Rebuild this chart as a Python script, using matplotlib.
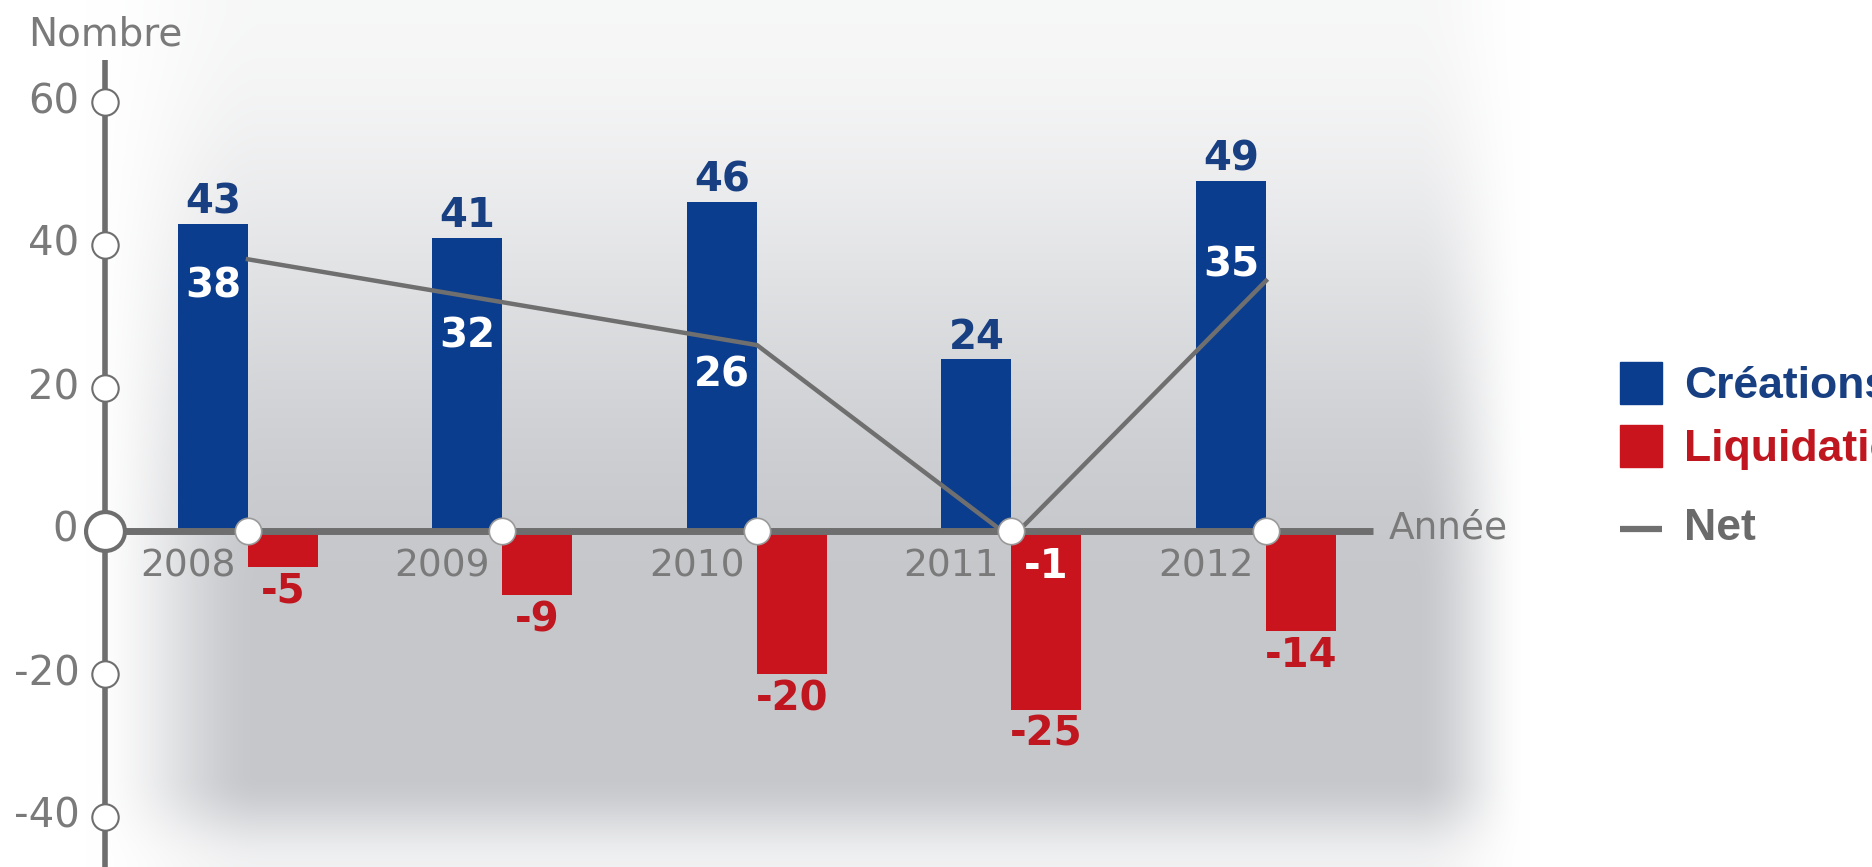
"""
creations / liquidations d'entreprises, 2008-2012
bar chart with net line, grey vignette background
"""
import numpy as np
import matplotlib as mpl
mpl.use('Agg')
import matplotlib.pyplot as plt
from matplotlib.patches import Rectangle

# data
years = ['2008', '2009', '2010', '2011', '2012']
creations = [43, 41, 46, 24, 49]
liquidations = [-5, -9, -20, -25, -14]
net = [38, 32, 26, -1, 35]
y_ticks = [60, 40, 20, 0, -20, -40]

# colours
BLUE = '#0b3d8e'
RED = '#c9141d'
BLUE_TXT = '#173f82'
RED_TXT = '#c0161f'
AXIS = '#6e6e6e'
TXT_GRAY = '#7a7a7a'

plt.rcParams['font.family'] = ['DejaVu Sans']
LEG_FONT = ['Liberation Sans', 'DejaVu Sans']

W, H = 1872, 867
DPI = 100


def smooth(t):
    t = np.clip(t, 0, 1)
    return t * t * (3 - 2 * t)


def background():
    yy, xx = np.mgrid[0:H, 0:W].astype(float)
    fx = smooth((xx - 85) / 175) * (1 - smooth((xx - 1415) / 115))
    fy = (0.14 + 0.86 * smooth(yy / 600)) * (1 - 0.75 * smooth((yy - 775) / 92))
    inten = fx * fy
    dark = np.array([0.775, 0.782, 0.797])
    return 1 - inten[..., None] * (1 - dark)


def main():
    fig = plt.figure(figsize=(W / DPI, H / DPI), dpi=DPI)

    ax_bg = fig.add_axes([0, 0, 1, 1])
    ax_bg.imshow(background(), aspect='auto', extent=[0, 1, 0, 1])
    ax_bg.axis('off')

    ax = fig.add_axes([0, 0, 1, 1], facecolor='none')
    ax.axis('off')
    # pixel mapping: group boundary 0 at x=248px, 254.5px per group
    # value 0 at y=531px from top, 7.15px per unit
    step, px_u = 254.5, 7.15
    ax.set_xlim(-248 / step, (W - 248) / step)
    ax.set_ylim(-(H - 531) / px_u, 531 / px_u)

    x = np.arange(len(years))
    w = 70 / step

    ax.bar(x - w / 2, creations, w, color=BLUE, zorder=2)
    ax.bar(x + w / 2, liquidations, w, color=RED, zorder=2)

    # axes
    x_axis0 = (105 - 248) / step
    ax.plot([x_axis0, x_axis0], [-50, (531 - 60) / px_u], color=AXIS,
            lw=4, solid_capstyle='butt', zorder=3)
    ax.plot([x_axis0, (1373 - 248) / step], [0, 0], color=AXIS,
            lw=5, solid_capstyle='butt', zorder=3)

    ax.plot(x, net, color='#6f6f6f', lw=3.2, zorder=4)

    for t in y_ticks:
        if t == 0:
            ax.plot(x_axis0, t, 'o', ms=28, mfc='white', mec=AXIS,
                    mew=3, zorder=5)
            ax.text((78 - 248) / step, t, '0', ha='right', va='center',
                    fontsize=29, color=TXT_GRAY)
        else:
            ax.plot(x_axis0, t, 'o', ms=19, mfc='white', mec=AXIS,
                    mew=1.5, zorder=5)
            ax.text(x_axis0 - 0.10, t, str(t), ha='right', va='center',
                    fontsize=29, color=TXT_GRAY)

    ax.plot(x, np.zeros(len(x)), 'o', ms=19, mfc='white', mec='#9a9a9a',
            mew=1.2, zorder=5)

    for i, yr in enumerate(years):
        ax.text(i - 0.05, -5, yr, ha='right', va='center',
                fontsize=27, color=TXT_GRAY, zorder=6)

    ax.text((28 - 248) / step, (531 - 34) / px_u, 'Nombre', ha='left',
            va='center', fontsize=28, color=TXT_GRAY)
    ax.text((1389 - 248) / step, 0.3, 'Année', ha='left', va='center',
            fontsize=27, color=TXT_GRAY)

    # value labels
    for i, v in enumerate(creations):
        ax.text(i - w / 2, v + 3, str(v), ha='center', va='center',
                fontsize=29, fontweight='bold', color=BLUE_TXT, zorder=6)
    for i, v in enumerate(liquidations):
        ax.text(i + w / 2, v - 3.5, str(v), ha='center', va='center',
                fontsize=29, fontweight='bold', color=RED_TXT, zorder=6)
    net_dy = [-3.8, -4.8, -4.3, -4.0, 2.2]
    for i, v in enumerate(net):
        xpos = i - w / 2 if v >= 0 else i + w / 2
        ax.text(xpos, v + net_dy[i], str(v), ha='center', va='center',
                fontsize=29, fontweight='bold', color='white', zorder=6)

    # legend
    lx0, lx1 = (1620 - 248) / step, (1662 - 248) / step
    ax.add_patch(Rectangle((lx0, (531 - 404) / px_u), lx1 - lx0, 42 / px_u,
                           color=BLUE, zorder=5))
    ax.add_patch(Rectangle((lx0, (531 - 467) / px_u), lx1 - lx0, 42 / px_u,
                           color=RED, zorder=5))
    ax.plot([lx0, lx1], [0.3, 0.3], color='#707070', lw=4.5,
            solid_capstyle='butt', zorder=5)
    tx = (1684 - 248) / step
    ax.text(tx, (531 - 386) / px_u, 'Créations', ha='left', va='center',
            fontsize=32, fontweight='bold', color=BLUE_TXT, family=LEG_FONT)
    ax.text(tx, (531 - 449) / px_u, 'Liquidations', ha='left', va='center',
            fontsize=32, fontweight='bold', color=RED_TXT, family=LEG_FONT)
    ax.text(tx, 0.3, 'Net', ha='left', va='center',
            fontsize=32, fontweight='bold', color='#6a6a6a', family=LEG_FONT)

    fig.savefig('out.png', dpi=DPI)


if __name__ == '__main__':
    main()
